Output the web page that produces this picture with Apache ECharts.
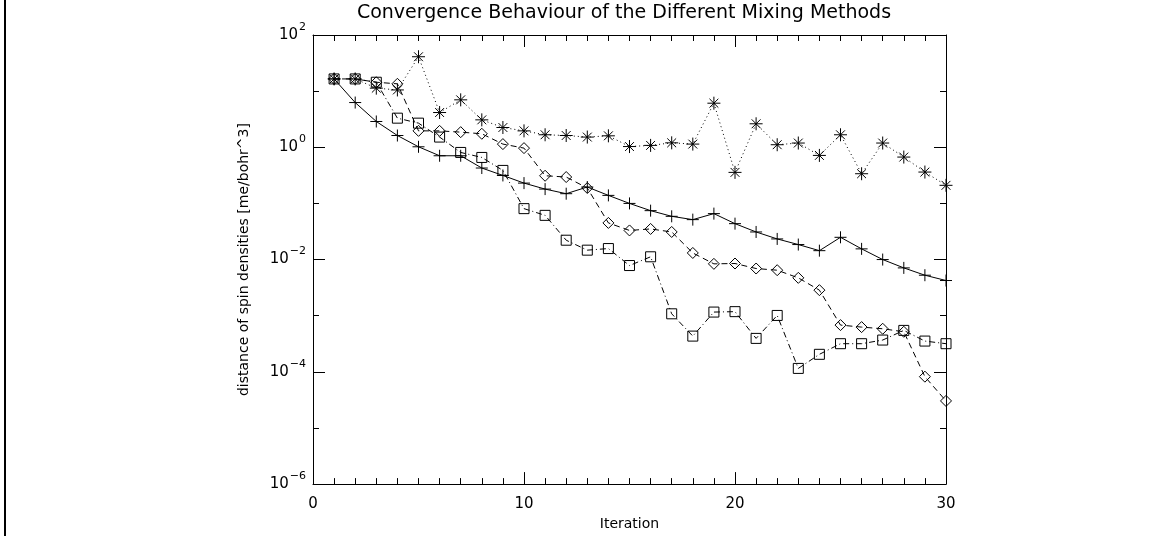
<!DOCTYPE html>
<html>
<head>
<meta charset="utf-8">
<script src="https://cdn.jsdelivr.net/npm/echarts@6/dist/echarts.min.js"></script>
<style>
  html, body { margin: 0; padding: 0; background: #fff; }
  #chart { width: 1176px; height: 536px; }
</style>
</head>
<body>
<div id="chart"></div>
<script>
// Iteration numbers on the x axis
const iterations = [1,2,3,4,5,6,7,8,9,10,11,12,13,14,15,16,17,18,19,20,21,22,23,24,25,26,27,28,29,30];

// Distance of spin densities per iteration for the four mixing schemes
const plusValues = [16.5, 6.26, 2.88, 1.62, 1.02, 0.706, 0.706, 0.427, 0.315, 0.23,
  0.18, 0.149, 0.196, 0.139, 0.1, 0.0743, 0.0589, 0.0514, 0.0658, 0.0436,
  0.031, 0.0233, 0.0185, 0.0144, 0.0249, 0.0155, 0.01, 0.0071, 0.00526, 0.00423];
const starValues = [16.5, 16.5, 11.3, 10.5, 41, 4.16, 7.0, 3.08, 2.25, 1.96,
  1.67, 1.62, 1.52, 1.6, 1.03, 1.08, 1.2, 1.14, 6.1, 0.357,
  2.62, 1.11, 1.19, 0.716, 1.67, 0.338, 1.19, 0.669, 0.362, 0.21];
const diamondValues = [16.5, 16.5, 14.4, 13.5, 1.96, 1.96, 1.86, 1.74, 1.14, 0.966,
  0.311, 0.295, 0.188, 0.0449, 0.033, 0.0351, 0.031, 0.0131, 0.00838, 0.0085,
  0.00692, 0.00646, 0.00472, 0.00285, 0.00068, 0.000626, 0.000585, 0.000517, 0.000082, 0.0000303];
const squareValues = [16.5, 16.5, 14.4, 3.3, 2.69, 1.52, 0.809, 0.659, 0.387, 0.0807,
  0.0613, 0.0221, 0.0147, 0.0157, 0.00782, 0.0112, 0.00108, 0.000433, 0.00116, 0.00118,
  0.000394, 0.00101, 0.000115, 0.000205, 0.000317, 0.000317, 0.000368, 0.000547, 0.000353, 0.000317];

// Tick labels
const xTickLabels = ['0', '10', '20', '30'];
const yLabelExponents = [-6, -4, -2, 0, 2];

const FONT = 'DejaVu Sans';
const INK = '#000';

const pairs = (vals) => iterations.map((it, i) => [it, vals[i]]);

const SYM_PLUS = 'path://M0,5L10,5M5,0L5,10';
const SYM_STAR = 'path://M0,5L10,5M5,0L5,10M1.6,1.6L8.4,8.4M1.6,8.4L8.4,1.6';
const SYM_DIAMOND = 'path://M5,0L10,5L5,10L0,5Z';
const SYM_SQUARE = 'path://M0,0L10,0L10,10L0,10Z';

function makeSeries(name, vals, symbol, size, dash) {
  return {
    name: name,
    type: 'line',
    data: pairs(vals),
    symbol: symbol,
    symbolSize: size,
    showAllSymbol: true,
    animation: false,
    lineStyle: { color: INK, width: 1, type: dash },
    itemStyle: { color: 'rgba(0,0,0,0)', borderColor: INK, borderWidth: 1 }
  };
}

const expLabel = (v) => {
  const e = Math.round(Math.log10(v));
  if (yLabelExponents.indexOf(e) < 0) return '';
  const es = e < 0 ? '\u2212' + Math.abs(e) : String(e);
  return '{b|10}{s|' + es + '}';
};

const chart = echarts.init(document.getElementById('chart'), null, { renderer: 'canvas' });

// Decade ticks (every power of ten) on the log axes
const logAxisBase = {
  type: 'log',
  logBase: 10,
  min: 1e-6,
  max: 1e2,
  splitLine: { show: false },
  axisLine: { show: true, onZero: false, lineStyle: { color: INK, width: 1 } },
  axisTick: { show: true, inside: true, length: 6, lineStyle: { color: INK } },
  minorTick: { show: false }
};

// Longer ticks at the labelled (even) decades
const majorDecadeAxis = {
  type: 'value',
  min: -6,
  max: 2,
  interval: 2,
  splitLine: { show: false },
  axisLine: { show: false, onZero: false },
  axisTick: { show: true, inside: true, length: 12, lineStyle: { color: INK } },
  axisLabel: { show: false }
};

const xAxisBase = {
  type: 'value',
  min: 0,
  max: 30,
  interval: 10,
  splitLine: { show: false },
  axisLine: { show: true, onZero: false, lineStyle: { color: INK, width: 1 } },
  axisTick: { show: true, inside: true, length: 12, lineStyle: { color: INK } },
  minorTick: { show: true, splitNumber: 10, length: 6, lineStyle: { color: INK } }
};

chart.setOption({
  backgroundColor: '#fff',
  animation: false,
  grid: { left: 313, right: 230, top: 35, bottom: 51, containLabel: false },
  graphic: [
    {
      type: 'rect',
      shape: { x: 4, y: 0, width: 2, height: 536 },
      style: { fill: INK },
      silent: true
    },
    {
      type: 'text',
      x: 624,
      y: 4,
      style: {
        text: 'Convergence Behaviour of the Different Mixing Methods',
        font: 'normal 19px "' + FONT + '"',
        fill: INK,
        textAlign: 'center',
        textVerticalAlign: 'top'
      },
      silent: true
    }
  ],
  xAxis: [
    Object.assign({}, xAxisBase, {
      position: 'bottom',
      name: 'Iteration',
      nameLocation: 'middle',
      nameGap: 31,
      nameTextStyle: { color: INK, fontFamily: FONT, fontSize: 14 },
      axisLabel: {
        show: true, margin: 13, color: INK, fontFamily: FONT, fontSize: 15,
        formatter: (v) => xTickLabels[Math.round(v / 10)]
      }
    }),
    Object.assign({}, xAxisBase, {
      position: 'top',
      axisLabel: { show: false }
    })
  ],
  yAxis: [
    Object.assign({}, logAxisBase, {
      position: 'left',
      name: 'distance of spin densities [me/bohr^3]',
      nameLocation: 'middle',
      nameGap: 62,
      nameTextStyle: { color: INK, fontFamily: FONT, fontSize: 14 },
      axisLabel: {
        show: true,
        margin: 7,
        color: INK,
        fontFamily: FONT,
        formatter: expLabel,
        rich: {
          b: { fontSize: 15, fontFamily: FONT, color: INK, lineHeight: 16, verticalAlign: 'middle' },
          s: { fontSize: 11, fontFamily: FONT, color: INK, lineHeight: 12, verticalAlign: 'middle', padding: [0, 0, 16, 1] }
        }
      }
    }),
    Object.assign({}, logAxisBase, {
      position: 'right',
      axisLabel: { show: false }
    }),
    Object.assign({}, majorDecadeAxis, { position: 'left' }),
    Object.assign({}, majorDecadeAxis, { position: 'right' })
  ],
  series: [
    makeSeries('plus', plusValues, SYM_PLUS, 12, 'solid'),
    makeSeries('star', starValues, SYM_STAR, 13, [1, 3]),
    makeSeries('diamond', diamondValues, SYM_DIAMOND, 11, [6, 4]),
    makeSeries('square', squareValues, SYM_SQUARE, 10, [6, 3, 1, 3])
  ]
});
</script>
</body>
</html>
